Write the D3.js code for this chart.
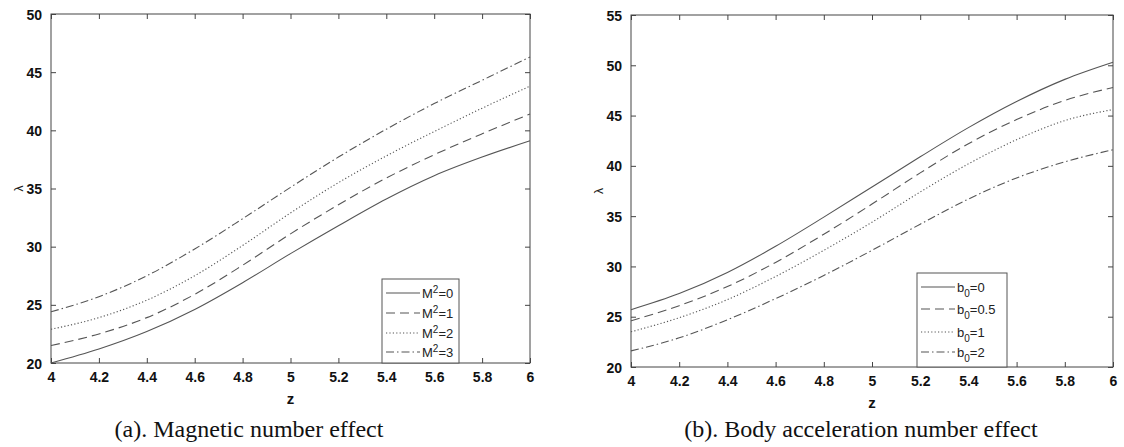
<!DOCTYPE html>
<html>
<head>
<meta charset="utf-8">
<script src="https://cdn.jsdelivr.net/npm/d3@7"></script>
<style>
  body { margin: 0; background: #fff; }
  svg { display: block; }
  .tick text { font-family: "Liberation Sans", Arial, sans-serif; font-weight: bold; font-size: 14px; fill: #111; }
</style>
</head>
<body>
<svg id="drawing_region"></svg>
<script>
// shared x values
const zValues = [4, 4.2, 4.4, 4.6, 4.8, 5, 5.2, 5.4, 5.6, 5.8, 6];
const xTicks = [4, 4.2, 4.4, 4.6, 4.8, 5, 5.2, 5.4, 5.6, 5.8, 6];

// (a) magnetic number effect
const magLabels = ["0", "1", "2", "3"];
const magM0 = [20.0, 21.2, 22.7, 24.6, 26.9, 29.4, 31.8, 34.1, 36.1, 37.7, 39.1];
const magM1 = [21.5, 22.5, 23.9, 25.9, 28.4, 31.1, 33.6, 35.9, 37.9, 39.7, 41.4];
const magM2 = [22.9, 23.9, 25.4, 27.5, 30.1, 32.9, 35.5, 37.8, 39.9, 41.9, 43.8];
const magM3 = [24.4, 25.7, 27.5, 29.8, 32.4, 35.1, 37.7, 40.1, 42.3, 44.3, 46.3];
const magYTicks = [20, 25, 30, 35, 40, 45, 50];

// (b) body acceleration number effect
const accLabels = ["0", "0.5", "1", "2"];
const accB0 = [25.7, 27.3, 29.4, 32.0, 34.9, 37.9, 40.9, 43.8, 46.4, 48.6, 50.3];
const accB05 = [24.6, 26.1, 28.0, 30.4, 33.2, 36.2, 39.3, 42.2, 44.6, 46.5, 47.8];
const accB1 = [23.5, 24.9, 26.7, 29.0, 31.6, 34.4, 37.4, 40.2, 42.6, 44.5, 45.6];
const accB2 = [21.6, 22.9, 24.7, 26.8, 29.1, 31.6, 34.2, 36.7, 38.8, 40.4, 41.6];
const accYTicks = [20, 25, 30, 35, 40, 45, 50, 55];

const dashes = [null, "9,5", "1.2,2.2", "8,3,1.5,3"];

const svg = d3.select('#drawing_region')
    .attr('width', 1124)
    .attr('height', 447);

function drawPanel(cfg) {
    const g = svg.append('g');
    const x = d3.scaleLinear().domain([4, 6]).range([cfg.left, cfg.right]);
    const y = d3.scaleLinear().domain(cfg.yDomain).range([cfg.bottom, cfg.top]);

    const axisColor = '#444';
    // box
    g.append('rect')
        .attr('x', cfg.left).attr('y', cfg.top)
        .attr('width', cfg.right - cfg.left).attr('height', cfg.bottom - cfg.top)
        .attr('fill', 'none').attr('stroke', axisColor).attr('stroke-width', 1);

    // axes with inward ticks
    const xb = g.append('g').attr('transform', `translate(0,${cfg.bottom})`)
        .call(d3.axisBottom(x).tickValues(xTicks).tickSize(-5).tickPadding(9).tickFormat(d3.format('~g')));
    const xt = g.append('g').attr('transform', `translate(0,${cfg.top})`)
        .call(d3.axisTop(x).tickValues(xTicks).tickSize(-5).tickFormat(''));
    const yl = g.append('g').attr('transform', `translate(${cfg.left},0)`)
        .call(d3.axisLeft(y).tickValues(cfg.yTicks).tickSize(-5).tickPadding(9));
    const yr = g.append('g').attr('transform', `translate(${cfg.right},0)`)
        .call(d3.axisRight(y).tickValues(cfg.yTicks).tickSize(-5).tickFormat(''));
    [xb, xt, yl, yr].forEach(a => {
        a.select('.domain').remove();
        a.selectAll('.tick line').attr('stroke', axisColor);
    });
    yl.selectAll('.tick text').attr('dy', '0.36em');

    // curves
    const line = d3.line()
        .x((d, i) => x(zValues[i]))
        .y(d => y(d))
        .curve(d3.curveMonotoneX);
    cfg.series.forEach((s, i) => {
        g.append('path')
            .attr('d', line(s))
            .attr('fill', 'none')
            .attr('stroke', '#555')
            .attr('stroke-width', 1.1)
            .attr('stroke-dasharray', dashes[i]);
    });

    // axis labels
    g.append('text')
        .attr('x', (cfg.left + cfg.right) / 2).attr('y', cfg.bottom + 41)
        .attr('text-anchor', 'middle')
        .style('font-family', 'Liberation Sans, Arial, sans-serif')
        .style('font-weight', 'bold').style('font-size', '15px').attr('fill', '#111')
        .text('z');
    g.append('text')
        .attr('transform', `translate(${cfg.left - 28},${(cfg.top + cfg.bottom) / 2}) rotate(-90)`)
        .attr('text-anchor', 'middle')
        .style('font-family', 'Liberation Sans, Arial, sans-serif')
        .style('font-size', '12px').attr('fill', '#222')
        .text('λ');

    // legend
    const lg = g.append('g');
    lg.append('rect')
        .attr('x', cfg.legend.x).attr('y', cfg.legend.y)
        .attr('width', cfg.legend.w).attr('height', cfg.legend.h)
        .attr('fill', '#fff').attr('stroke', '#555').attr('stroke-width', 1);
    cfg.labels.forEach((lab, i) => {
        const yy = cfg.legend.y + cfg.legend.rows[i];
        lg.append('line')
            .attr('x1', cfg.legend.x + 4).attr('x2', cfg.legend.x + 38)
            .attr('y1', yy).attr('y2', yy)
            .attr('stroke', '#555').attr('stroke-width', 1.1)
            .attr('stroke-dasharray', dashes[i]);
        const t = lg.append('text')
            .attr('x', cfg.legend.x + 40).attr('y', yy + 5)
            .style('font-family', 'Liberation Sans, Arial, sans-serif')
            .style('font-size', '13px').attr('fill', '#222');
        if (cfg.kind === 'M') {
            t.append('tspan').text('M');
            t.append('tspan').attr('dy', -5).style('font-size', '10px').text('2');
            t.append('tspan').attr('dy', 5).text('=' + lab);
        } else {
            t.append('tspan').text('b');
            t.append('tspan').attr('dy', 5).style('font-size', '10px').text('0');
            t.append('tspan').attr('dy', -5).text('=' + lab);
        }
    });

    // caption
    g.append('text')
        .attr('x', cfg.captionX).attr('y', 437)
        .attr('text-anchor', 'middle')
        .style('font-family', 'Liberation Serif, "Times New Roman", serif')
        .style('font-size', '24px').attr('fill', '#111')
        .text(cfg.caption);
}

drawPanel({
    left: 51, right: 530, top: 14, bottom: 363,
    yDomain: [20, 50], yTicks: magYTicks,
    series: [magM0, magM1, magM2, magM3],
    labels: magLabels, kind: 'M',
    legend: {x: 382, y: 279, w: 77, h: 84, rows: [14, 34, 54, 73]},
    caption: '(a). Magnetic number effect', captionX: 249
});

drawPanel({
    left: 631, right: 1113, top: 15, bottom: 367,
    yDomain: [20, 55], yTicks: accYTicks,
    series: [accB0, accB05, accB1, accB2],
    labels: accLabels, kind: 'b',
    legend: {x: 917, y: 273, w: 90, h: 94, rows: [14, 36, 59, 79]},
    caption: '(b). Body acceleration number effect', captionX: 861
});
</script>
</body>
</html>
